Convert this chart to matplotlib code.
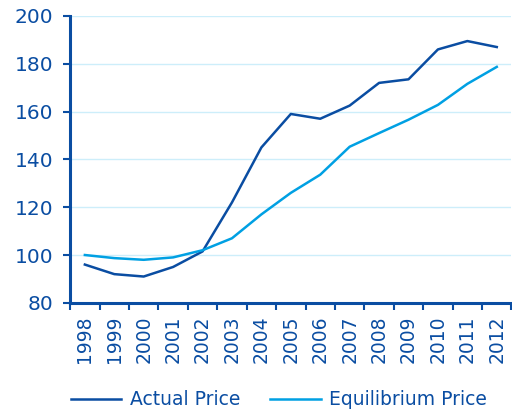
import matplotlib
matplotlib.use('Agg')
import matplotlib.pyplot as plt
import numpy as np

years = [str(y) for y in range(1998, 2013)]
actual = [96, 92, 91, 95, 101.5, 122, 145, 159, 157, 162.5, 172, 173.5, 186, 189.5, 187]
equilibrium = [100, 98.7, 98, 99, 102, 107, 117, 126, 133.6, 145.3, 151, 156.6, 162.8, 171.6, 178.7]

dark = '#0a4da2'
light = '#00a0e3'
grid = '#cdeefa'

plt.rcParams['font.family'] = ['DejaVu Sans']
fig = plt.figure(figsize=(5.12, 4.2), dpi=100)
ax = fig.add_axes([0.137, 0.279, 0.862, 0.683])

x = np.arange(len(years))
ax.plot(x, actual, color=dark, lw=1.8, label='Actual Price')
ax.plot(x, equilibrium, color=light, lw=1.8, label='Equilibrium Price')

ax.set_xlim(-0.5, len(years) - 0.5)
ax.set_ylim(80, 200)
ax.set_yticks(range(80, 201, 20))
ax.yaxis.grid(True, color=grid, lw=1)
ax.set_axisbelow(True)

ax.set_xticks(x)
ax.set_xticklabels(years, rotation=90, fontsize=13.5, color=dark)
ax.set_xticks(np.arange(-0.5, len(years), 1), minor=True)
ax.tick_params(axis='x', which='major', length=0, pad=9)
ax.tick_params(axis='x', which='minor', length=5, width=1.5, color=dark, direction='out')
ax.tick_params(axis='y', length=5, width=1.5, color=dark, labelsize=14.5, labelcolor=dark, pad=7)

for s in ['top', 'right']:
    ax.spines[s].set_visible(False)
for s in ['left', 'bottom']:
    ax.spines[s].set_color(dark)
    ax.spines[s].set_linewidth(2.2)

leg = fig.legend(loc='lower center', bbox_to_anchor=(0.545, -0.015), ncol=2, frameon=False,
                 fontsize=13.5, handlelength=2.7, columnspacing=1.6, handletextpad=0.45)
for t in leg.get_texts():
    t.set_color(dark)

fig.savefig('out.png', dpi=100)
